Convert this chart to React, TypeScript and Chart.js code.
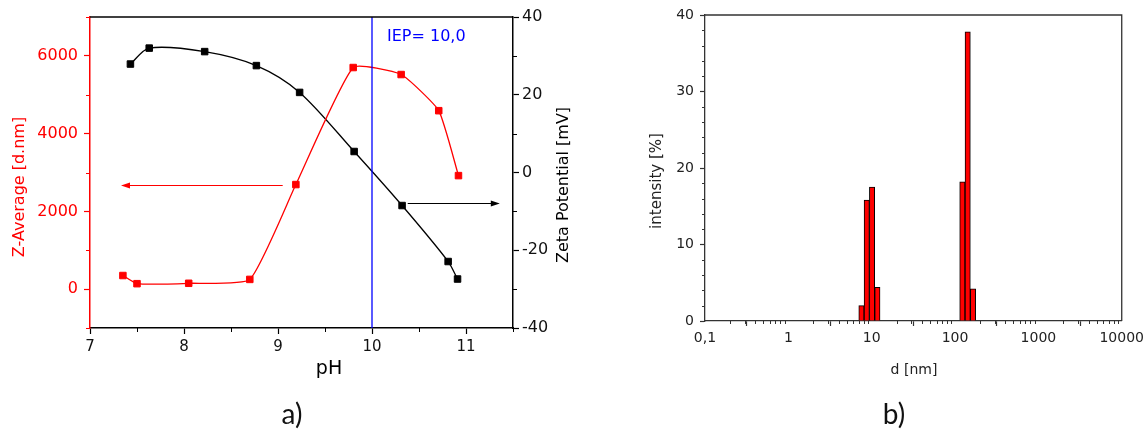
import React, { useEffect, useRef } from 'react';
import { Chart, registerables } from 'chart.js';

Chart.register(...registerables);

// ---------- panel a) : Z-Average and zeta potential vs pH ----------
const phZAverage = [7.35, 7.5, 8.05, 8.7, 9.19, 9.8, 10.31, 10.71, 10.92];
const zAverage = [350, 140, 150, 250, 2690, 5700, 5520, 4590, 2920];
const phZeta = [7.43, 7.63, 8.22, 8.77, 9.23, 9.81, 10.32, 10.81, 10.91];
const zetaPotential = [27.9, 32.0, 31.1, 27.5, 20.6, 5.4, -8.5, -22.9, -27.4];
const iepPh = 10.0;
const iepLabel = 'IEP= 10,0';
const phRange = [7, 11.5];
const zAverageRange = [-1000, 7000];
const zetaRange = [-40, 40];
const phTicks = [7, 8, 9, 10, 11];
const phMinorTicks = [7.5, 8.5, 9.5, 10.5, 11.5];
const zAverageTicks = [0, 2000, 4000, 6000];
const zAverageMinorTicks = [-1000, 1000, 3000, 5000, 7000];
const zetaTicks = [-40, -20, 0, 20, 40];
const zetaMinorTicks = [-30, -10, 10, 30];
const redArrowPh = [9.05, 7.33];
const redArrowZAverage = 2690;
const blackArrowPh = [10.38, 11.36];
const blackArrowZeta = -7.8;

// ---------- panel b) : size distribution ----------
const sizeClasses = [7.53, 8.72, 10.1, 11.7, 122.4, 141.8, 164.2];
const intensity = [2.0, 15.8, 17.5, 4.4, 18.2, 37.8, 4.2];
const dRange = [0.1, 10000];
const intensityRange = [0, 40];
const dTicks = [0.1, 1, 10, 100, 1000, 10000];
const dTickLabels = ['0,1', '1', '10', '100', '1000', '10000'];
const intensityTicks = [0, 10, 20, 30, 40];
const intensityMinorTicks = [2, 4, 6, 8, 12, 14, 16, 18, 22, 24, 26, 28, 32, 34, 36, 38];
const dMinorMultipliers = [2, 3, 4, 5, 6, 7, 8, 9];

const FONT = 'DejaVu Sans';
const RED = '#ff0000';

function drawMinorTicks(ctx: any, scale: any, values: number[], side: string, len: number, color: string) {
  ctx.save();
  ctx.strokeStyle = color;
  ctx.lineWidth = 1;
  ctx.beginPath();
  for (const v of values) {
    const p = Math.round(scale.getPixelForValue(v)) + 0.5;
    if (side === 'bottom') {
      ctx.moveTo(p, scale.top);
      ctx.lineTo(p, scale.top + len);
    } else if (side === 'left') {
      ctx.moveTo(scale.right - len, p);
      ctx.lineTo(scale.right, p);
    } else {
      ctx.moveTo(scale.left, p);
      ctx.lineTo(scale.left + len, p);
    }
  }
  ctx.stroke();
  ctx.restore();
}

function drawText(ctx: any, str: string, x: number, y: number, font: string, color: string, rotate = false, align = 'center') {
  ctx.save();
  ctx.translate(x, y);
  if (rotate) ctx.rotate(-Math.PI / 2);
  ctx.font = font;
  ctx.fillStyle = color;
  ctx.textAlign = align;
  ctx.textBaseline = 'middle';
  ctx.fillText(str, 0, 0);
  ctx.restore();
}

function drawArrow(ctx: any, x1: number, x2: number, y: number, color: string) {
  ctx.save();
  ctx.strokeStyle = color;
  ctx.fillStyle = color;
  ctx.lineWidth = 1;
  const yy = Math.round(y) + 0.5;
  const dir = Math.sign(x2 - x1);
  ctx.beginPath();
  ctx.moveTo(x1, yy);
  ctx.lineTo(x2 - dir * 6, yy);
  ctx.stroke();
  ctx.beginPath();
  ctx.moveTo(x2, yy);
  ctx.lineTo(x2 - dir * 9, yy - 3);
  ctx.lineTo(x2 - dir * 9, yy + 3);
  ctx.closePath();
  ctx.fill();
  ctx.restore();
}

const panelAPlugin = {
  id: 'panelADecor',
  afterDraw(chart: any) {
    const { ctx, chartArea: ca, scales } = chart;
    const x = scales.x;
    const y = scales.y;
    const y2 = scales.y2;
    ctx.save();
    ctx.strokeStyle = '#000';
    ctx.lineWidth = 1.5;
    ctx.beginPath();
    ctx.moveTo(ca.left, ca.top);
    ctx.lineTo(ca.right, ca.top);
    ctx.stroke();
    ctx.restore();
    drawMinorTicks(ctx, x, phMinorTicks, 'bottom', 4, '#000');
    drawMinorTicks(ctx, y, zAverageMinorTicks, 'left', 4, RED);
    drawMinorTicks(ctx, y2, zetaMinorTicks, 'right', 4, '#000');
    drawArrow(ctx, x.getPixelForValue(redArrowPh[0]), x.getPixelForValue(redArrowPh[1]), y.getPixelForValue(redArrowZAverage), RED);
    drawArrow(ctx, x.getPixelForValue(blackArrowPh[0]), x.getPixelForValue(blackArrowPh[1]), y2.getPixelForValue(blackArrowZeta), '#000');
    drawText(ctx, iepLabel, x.getPixelForValue(iepPh) + 15, ca.top + 20, `16px "${FONT}"`, '#0000ff', false, 'left');
    drawText(ctx, 'Z-Average [d.nm]', 20, 187, `16px "${FONT}"`, RED, true);
    drawText(ctx, 'Zeta Potential [mV]', 564, 185, `16px "${FONT}"`, '#000', true);
    drawText(ctx, 'pH', 329, 369, `19px "${FONT}"`, '#000');
  },
};

const panelBPlugin = {
  id: 'panelBDecor',
  afterDraw(chart: any) {
    const { ctx, chartArea: ca, scales } = chart;
    ctx.save();
    ctx.strokeStyle = '#333';
    ctx.lineWidth = 1.3;
    ctx.beginPath();
    ctx.moveTo(ca.left, ca.top);
    ctx.lineTo(ca.right, ca.top);
    ctx.lineTo(ca.right, ca.bottom);
    ctx.stroke();
    ctx.restore();
    const dMinor: number[] = [];
    dTicks.slice(0, -1).forEach((d) => dMinorMultipliers.forEach((k) => dMinor.push(d * k)));
    drawMinorTicks(ctx, scales.x, dMinor, 'bottom', 3, '#333');
    drawMinorTicks(ctx, scales.y, intensityMinorTicks, 'left', 3, '#333');
    drawText(ctx, 'intensity [%]', 83, 181, `15px "${FONT}"`, '#222', true);
    drawText(ctx, 'd [nm]', 340, 370, `14px "${FONT}"`, '#222');
  },
};

export default function App() {
  const refA = useRef<HTMLCanvasElement>(null);
  const refB = useRef<HTMLCanvasElement>(null);

  useEffect(() => {
    const chartA = new Chart(refA.current as HTMLCanvasElement, {
      type: 'line',
      data: {
        datasets: [
          {
            label: 'IEP',
            data: [
              { x: iepPh, y: zAverageRange[0] },
              { x: iepPh, y: zAverageRange[1] },
            ],
            yAxisID: 'y',
            borderColor: '#0000ff',
            borderWidth: 1.3,
            pointRadius: 0,
            tension: 0,
          },
          {
            label: 'Z-Average',
            data: phZAverage.map((p, i) => ({ x: p, y: zAverage[i] })),
            yAxisID: 'y',
            borderColor: RED,
            backgroundColor: RED,
            borderWidth: 1.3,
            pointStyle: 'rect',
            pointRadius: 4.6,
            pointBorderWidth: 1,
            pointBorderColor: RED,
            pointBackgroundColor: RED,
            tension: 0.15,
          },
          {
            label: 'Zeta',
            data: phZeta.map((p, i) => ({ x: p, y: zetaPotential[i] })),
            yAxisID: 'y2',
            borderColor: '#000',
            backgroundColor: '#000',
            borderWidth: 1.3,
            pointStyle: 'rect',
            pointRadius: 4.6,
            pointBorderWidth: 1,
            pointBorderColor: '#000',
            pointBackgroundColor: '#000',
            tension: 0.3,
          },
        ],
      },
      options: {
        responsive: false,
        animation: false,
        devicePixelRatio: 1,
        layout: { padding: { top: 17, left: 0, right: 0, bottom: 0 } },
        plugins: { legend: { display: false }, tooltip: { enabled: false } },
        scales: {
          x: {
            type: 'linear',
            position: 'bottom',
            min: phRange[0],
            max: phRange[1],
            afterBuildTicks: (s: any) => {
              s.ticks = phTicks.map((v) => ({ value: v }));
            },
            afterFit: (s: any) => {
              s.height = 101;
            },
            ticks: {
              autoSkip: false,
              maxRotation: 0,
              padding: 4,
              color: '#111',
              font: { family: FONT, size: 15 },
              callback: (v: any) => String(v),
            },
            grid: { drawOnChartArea: false, tickLength: 6, tickColor: '#000', tickWidth: 1.2, color: '#000' },
            border: { color: '#000', width: 1.5 },
          },
          y: {
            type: 'linear',
            position: 'left',
            min: zAverageRange[0],
            max: zAverageRange[1],
            afterBuildTicks: (s: any) => {
              s.ticks = zAverageTicks.map((v) => ({ value: v }));
            },
            afterFit: (s: any) => {
              s.width = 90;
            },
            ticks: {
              padding: 6,
              color: RED,
              font: { family: FONT, size: 16 },
              callback: (v: any) => String(v),
            },
            grid: { drawOnChartArea: false, tickLength: 6, tickColor: RED, tickWidth: 1.2, color: RED },
            border: { color: RED, width: 1.5 },
          },
          y2: {
            type: 'linear',
            position: 'right',
            min: zetaRange[0],
            max: zetaRange[1],
            afterBuildTicks: (s: any) => {
              s.ticks = zetaTicks.map((v) => ({ value: v }));
            },
            afterFit: (s: any) => {
              s.width = 61;
            },
            ticks: {
              padding: 3,
              color: '#111',
              font: { family: FONT, size: 16 },
              callback: (v: any) => String(v),
            },
            grid: { drawOnChartArea: false, tickLength: 6, tickColor: '#000', tickWidth: 1.2, color: '#000' },
            border: { color: '#000', width: 1.5 },
          },
        },
      } as any,
      plugins: [panelAPlugin],
    });

    const chartB = new Chart(refB.current as HTMLCanvasElement, {
      type: 'bar',
      data: {
        datasets: [
          {
            label: 'intensity',
            data: sizeClasses.map((d, i) => ({ x: d, y: intensity[i] })),
            backgroundColor: RED,
            borderColor: '#000',
            borderWidth: 1,
            barPercentage: 1,
            categoryPercentage: 1,
          },
        ],
      },
      options: {
        responsive: false,
        animation: false,
        devicePixelRatio: 1,
        layout: { padding: { top: 15, left: 0, right: 25, bottom: 0 } },
        plugins: { legend: { display: false }, tooltip: { enabled: false } },
        scales: {
          x: {
            type: 'logarithmic',
            position: 'bottom',
            min: dRange[0],
            max: dRange[1],
            afterBuildTicks: (s: any) => {
              s.ticks = dTicks.map((v) => ({ value: v }));
            },
            afterFit: (s: any) => {
              s.height = 108;
            },
            ticks: {
              autoSkip: false,
              maxRotation: 0,
              padding: 4,
              color: '#222',
              font: { family: FONT, size: 14 },
              callback: (v: any) => dTickLabels[dTicks.indexOf(v)] ?? '',
            },
            grid: { drawOnChartArea: false, tickLength: 5, tickColor: '#333', tickWidth: 1.2, color: '#333' },
            border: { color: '#333', width: 1.3 },
          },
          y: {
            type: 'linear',
            position: 'left',
            min: intensityRange[0],
            max: intensityRange[1],
            afterBuildTicks: (s: any) => {
              s.ticks = intensityTicks.map((v) => ({ value: v }));
            },
            afterFit: (s: any) => {
              s.width = 131;
            },
            ticks: {
              padding: 6,
              color: '#222',
              font: { family: FONT, size: 14 },
              callback: (v: any) => String(v),
            },
            grid: { drawOnChartArea: false, tickLength: 5, tickColor: '#333', tickWidth: 1.2, color: '#333' },
            border: { color: '#333', width: 1.3 },
          },
        },
      } as any,
      plugins: [panelBPlugin],
    });

    return () => {
      chartA.destroy();
      chartB.destroy();
    };
  }, []);

  const caption: React.CSSProperties = {
    position: 'absolute',
    width: 60,
    top: 396,
    textAlign: 'center',
    fontFamily: 'Lato',
    fontSize: 28,
    lineHeight: '34px',
    color: '#111',
  };

  return (
    <div style={{ position: 'fixed', left: 0, top: 0, width: 1148, height: 429, background: '#fff', overflow: 'hidden' }}>
      <canvas ref={refA} width={574} height={429} style={{ position: 'absolute', left: 0, top: 0, width: 574, height: 429 }} />
      <canvas ref={refB} width={574} height={429} style={{ position: 'absolute', left: 574, top: 0, width: 574, height: 429 }} />
      <div style={{ ...caption, left: 292 - 30 }}>a)</div>
      <div style={{ ...caption, left: 894 - 30 }}>b)</div>
    </div>
  );
}
